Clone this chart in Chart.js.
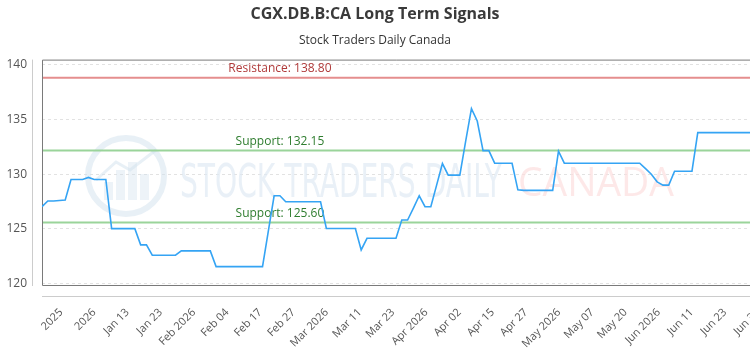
<!DOCTYPE html>
<html>
<head>
<meta charset="utf-8">
<script src="https://cdn.jsdelivr.net/npm/chart.js@4.4.1/dist/chart.umd.min.js"></script>
<style>
  html, body { margin: 0; padding: 0; background: #fff; overflow: hidden; }
  #wrap { width: 750px; height: 350px; }
</style>
</head>
<body>
<div id="wrap"><canvas id="signalChart" width="750" height="350"></canvas></div>
<script>
// daily closes, one per trading day
const closeValues = [
    127.03, 127.55, 127.55, 127.6, 127.64, 129.52, 129.52, 129.52, 129.7, 129.52,
    129.52, 129.52, 125.03, 125.03, 125.03, 125.03, 125.03, 123.55, 123.55, 122.61,
    122.61, 122.61, 122.61, 122.61, 123.0, 123.0, 123.0, 123.0, 123.0, 123.0,
    121.57, 121.57, 121.57, 121.57, 121.57, 121.57, 121.57, 121.57, 121.57, 124.8,
    128.03, 128.03, 127.48, 127.48, 127.48, 127.48, 127.48, 127.48, 127.48, 125.05,
    125.05, 125.05, 125.05, 125.05, 125.05, 123.09, 124.15, 124.15, 124.15, 124.15,
    124.15, 124.15, 125.82, 125.82, 126.9, 128.03, 127.03, 127.03, 129.0, 130.97,
    129.91, 129.91, 129.91, 133.0, 135.97, 134.85, 132.15, 132.15, 131.0, 131.0,
    131.0, 131.0, 128.57, 128.52, 128.52, 128.52, 128.52, 128.52, 128.52, 132.1,
    131.0, 131.0, 131.0, 131.0, 131.0, 131.0, 131.0, 131.0, 131.0, 131.0,
    131.0, 131.0, 131.0, 131.0, 130.5, 130.0, 129.3, 129.0, 129.0, 130.27,
    130.27, 130.27, 130.27, 133.79, 133.79, 133.79, 133.79, 133.79, 133.79, 133.79,
    133.79, 133.79, 133.79
];

const xTickLabels = ['2025', '2026', 'Jan 13', 'Jan 23', 'Feb 2026', 'Feb 04', 'Feb 17', 'Feb 27',
    'Mar 2026', 'Mar 11', 'Mar 23', 'Apr 2026', 'Apr 02', 'Apr 15', 'Apr 27', 'May 2026',
    'May 07', 'May 20', 'Jun 2026', 'Jun 11', 'Jun 23', 'Jun 30'];
const xTickStart = 3.3;   // index of first label
const xTickStep = 5.72;   // trading days between labels

const yTickValues = [120, 125, 130, 135, 140];

const signalLevels = [
    { label: 'Resistance: 138.80', value: 138.80, line: '#e58e8e', text: '#b03a3a' },
    { label: 'Support: 132.15', value: 132.15, line: '#9ad49a', text: '#2f7d2f' },
    { label: 'Support: 125.60', value: 125.60, line: '#9ad49a', text: '#2f7d2f' }
];
const levelLabelIndex = 41;

// watermark, axis lines and signal levels
const decorPlugin = {
    id: 'decor',
    beforeDatasetsDraw(chart) {
        const ctx = chart.ctx;
        const a = chart.chartArea;
        const xs = chart.scales.x, ys = chart.scales.y;
        ctx.save();

        // watermark logo
        ctx.strokeStyle = 'rgba(210,226,238,0.5)';
        ctx.fillStyle = 'rgba(210,226,238,0.4)';
        ctx.lineWidth = 6;
        ctx.beginPath();
        ctx.arc(126, 176, 38, 0, Math.PI * 2);
        ctx.stroke();
        [[104, 18], [116, 30], [128, 38], [140, 26]].forEach(function(b) {
            ctx.fillRect(b[0], 200 - b[1], 9, b[1]);
        });
        ctx.lineWidth = 3;
        ctx.beginPath();
        ctx.moveTo(96, 180); ctx.lineTo(116, 162); ctx.lineTo(130, 170); ctx.lineTo(156, 150);
        ctx.stroke();

        // watermark text
        ctx.textBaseline = 'alphabetic';
        ctx.textAlign = 'left';
        ctx.font = '46px "DejaVu Sans Condensed", "DejaVu Sans"';
        let t = 'STOCK TRADERS DAILY';
        let w = ctx.measureText(t).width;
        ctx.save();
        ctx.translate(180, 197);
        ctx.scale(322 / w, 1);
        ctx.fillStyle = 'rgba(224,234,243,0.7)';
        ctx.fillText(t, 0, 0);
        ctx.restore();
        ctx.font = '40px "Open Sans"';
        t = 'CANADA';
        w = ctx.measureText(t).width;
        ctx.save();
        ctx.translate(518, 196);
        ctx.scale(156 / w, 1);
        ctx.fillStyle = 'rgba(252,222,222,0.7)';
        ctx.fillText(t, 0, 0);
        ctx.restore();

        // frame and detached axis lines
        ctx.lineWidth = 1;
        ctx.strokeStyle = '#cccccc';
        ctx.beginPath();
        ctx.moveTo(32.5, a.top); ctx.lineTo(32.5, a.bottom);
        ctx.moveTo(a.left, a.bottom + 10.5); ctx.lineTo(a.right, a.bottom + 10.5);
        ctx.stroke();
        ctx.strokeStyle = '#7a7a7a';
        ctx.beginPath();
        ctx.moveTo(a.right, a.top + 0.5); ctx.lineTo(a.left + 0.5, a.top + 0.5);
        ctx.lineTo(a.left + 0.5, a.bottom - 0.5); ctx.lineTo(a.right, a.bottom - 0.5);
        ctx.stroke();

        // signal levels
        ctx.font = '12px "Open Sans"';
        ctx.textAlign = 'center';
        ctx.textBaseline = 'bottom';
        signalLevels.forEach(function(s) {
            const y = ys.getPixelForValue(s.value);
            ctx.strokeStyle = s.line;
            ctx.lineWidth = 2;
            ctx.beginPath();
            ctx.moveTo(a.left + 1, y); ctx.lineTo(a.right, y);
            ctx.stroke();
            ctx.fillStyle = s.text;
            ctx.fillText(s.label, xs.getPixelForValue(levelLabelIndex), y - 3);
        });
        ctx.restore();
    }
};

new Chart(document.getElementById('signalChart').getContext('2d'), {
    type: 'line',
    data: {
        datasets: [{
            data: closeValues.map(function(v, i) { return { x: i, y: v }; }),
            borderColor: '#35a4f4',
            borderWidth: 1.6,
            pointRadius: 0,
            tension: 0,
            fill: false
        }]
    },
    options: {
        responsive: false,
        animation: false,
        layout: { padding: 0 },
        plugins: {
            legend: { display: false },
            tooltip: { enabled: false },
            title: {
                display: true,
                text: 'CGX.DB.B:CA Long Term Signals',
                color: '#3a3a3a',
                font: { family: '"Open Sans"', size: 16, weight: 'bold' },
                padding: { top: 5, bottom: 5 }
            },
            subtitle: {
                display: true,
                text: 'Stock Traders Daily Canada',
                color: '#333333',
                font: { family: '"Open Sans"', size: 12 },
                padding: { top: 4, bottom: 12 }
            }
        },
        scales: {
            x: {
                type: 'linear',
                min: 0,
                max: 122,
                grid: { display: false },
                border: { display: false },
                afterBuildTicks: function(scale) {
                    scale.ticks = xTickLabels.map(function(l, k) {
                        return { value: xTickStart + k * xTickStep };
                    });
                },
                afterFit: function(scale) {
                    scale.height = 64;
                    scale.paddingLeft = 0;
                    scale.paddingRight = 0;
                },
                ticks: {
                    autoSkip: false,
                    minRotation: 45,
                    maxRotation: 45,
                    padding: 12,
                    color: '#555555',
                    font: { family: '"Open Sans"', size: 11 },
                    callback: function(value, index) { return xTickLabels[index]; }
                }
            },
            y: {
                min: 119.8,
                max: 140.45,
                border: { display: false, dash: [3, 3] },
                grid: {
                    color: '#e2e2e2',
                    drawTicks: false
                },
                afterBuildTicks: function(scale) {
                    scale.ticks = yTickValues.map(function(v) { return { value: v }; });
                },
                afterFit: function(scale) {
                    scale.width = 42;
                },
                ticks: {
                    padding: 15,
                    color: '#555555',
                    font: { family: '"Open Sans"', size: 12 }
                }
            }
        }
    },
    plugins: [decorPlugin]
});
</script>
</body>
</html>
